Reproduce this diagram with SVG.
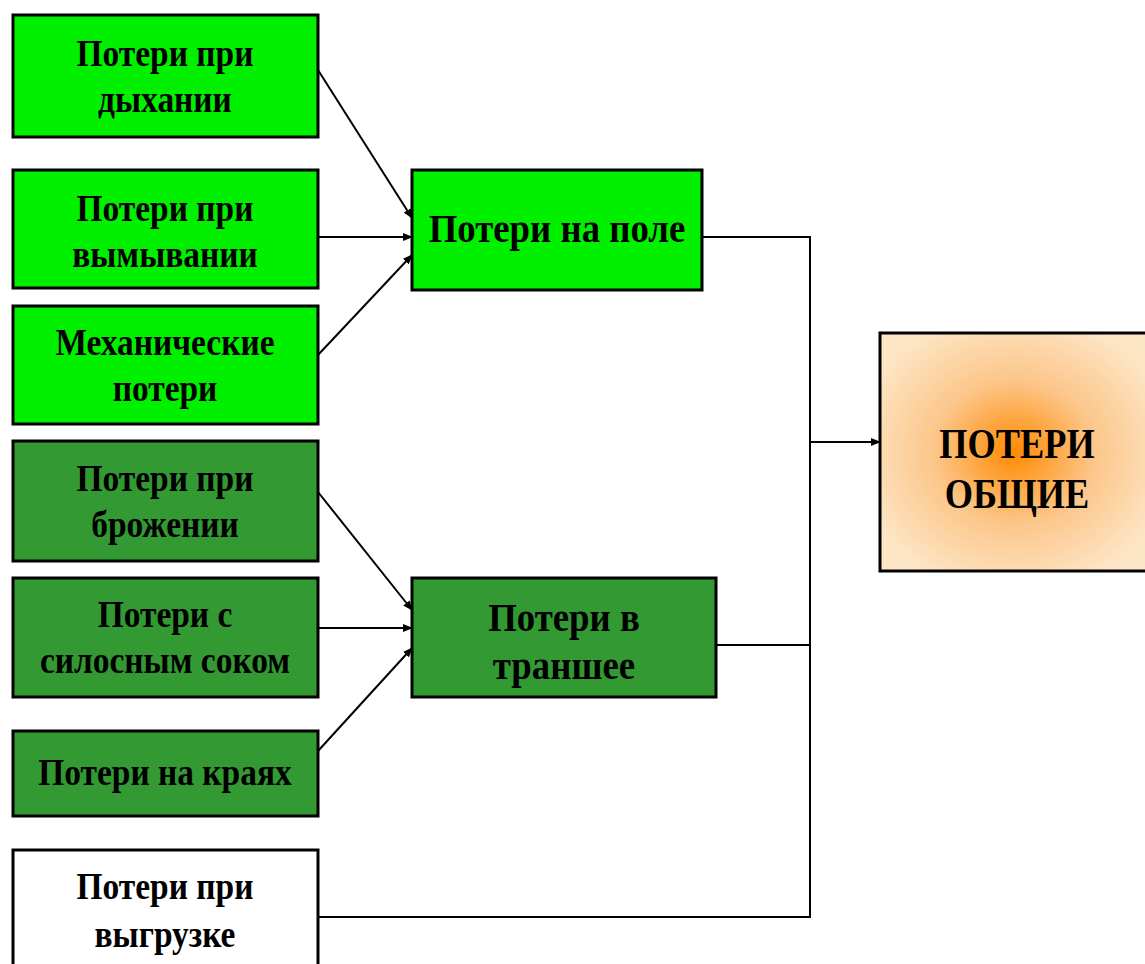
<svg xmlns="http://www.w3.org/2000/svg" width="1145" height="964" viewBox="0 0 1145 964">
<style>
.box{stroke:#000;stroke-width:3}
.lg{fill:#00f000}
.dg{fill:#339933}
.wh{fill:#fff}
text{font-family:"Liberation Serif","Times New Roman",serif;font-weight:bold;font-size:38px;fill:#000;text-anchor:middle}
text.m{font-size:40px}
text.t{font-size:42px}
.c{stroke:#000;stroke-width:2;fill:none}
</style>
<defs>
<marker id="ah" markerWidth="10" markerHeight="8" refX="9" refY="4" orient="auto" markerUnits="userSpaceOnUse">
<path d="M0,0 L10,4 L0,8 Z" fill="#000"/>
</marker>
<radialGradient id="og" cx="0.5" cy="0.5" r="0.6">
<stop offset="0" stop-color="#ff8a00"/>
<stop offset="0.5" stop-color="#fcc68a"/>
<stop offset="1" stop-color="#fde6c6"/>
</radialGradient>
</defs>
<rect width="1145" height="964" fill="#fff"/>
<g id="connectors">
<line class="c" x1="318" y1="70" x2="412" y2="218" marker-end="url(#ah)"/>
<line class="c" x1="318" y1="237" x2="412" y2="237" marker-end="url(#ah)"/>
<line class="c" x1="318" y1="355" x2="412" y2="255" marker-end="url(#ah)"/>
<line class="c" x1="318" y1="492" x2="412" y2="610" marker-end="url(#ah)"/>
<line class="c" x1="318" y1="628" x2="412" y2="628" marker-end="url(#ah)"/>
<line class="c" x1="318" y1="751" x2="412" y2="648" marker-end="url(#ah)"/>
<polyline class="c" points="702,237 810,237 810,917 318,917"/>
<line class="c" x1="716" y1="645" x2="810" y2="645"/>
<line class="c" x1="810" y1="442" x2="880" y2="442" marker-end="url(#ah)"/>
</g>
<g id="n1"><rect class="box lg" x="13" y="15" width="305" height="122"/><text x="165" y="66" transform="translate(165 0) scale(0.88 1) translate(-165 0)">Потери при</text><text x="165" y="112" transform="translate(165 0) scale(0.88 1) translate(-165 0)">дыхании</text></g>
<g id="n2"><rect class="box lg" x="13" y="170" width="305" height="118"/><text x="165" y="221" transform="translate(165 0) scale(0.88 1) translate(-165 0)">Потери при</text><text x="165" y="267" transform="translate(165 0) scale(0.88 1) translate(-165 0)">вымывании</text></g>
<g id="n3"><rect class="box lg" x="13" y="306" width="305" height="118"/><text x="165" y="355" transform="translate(165 0) scale(0.88 1) translate(-165 0)">Механические</text><text x="165" y="401" transform="translate(165 0) scale(0.88 1) translate(-165 0)">потери</text></g>
<g id="n4"><rect class="box dg" x="13" y="441" width="305" height="120"/><text x="165" y="491" transform="translate(165 0) scale(0.88 1) translate(-165 0)">Потери при</text><text x="165" y="537" transform="translate(165 0) scale(0.88 1) translate(-165 0)">брожении</text></g>
<g id="n5"><rect class="box dg" x="13" y="578" width="305" height="119"/><text x="165" y="627" transform="translate(165 0) scale(0.88 1) translate(-165 0)">Потери с</text><text x="165" y="673" transform="translate(165 0) scale(0.88 1) translate(-165 0)">силосным соком</text></g>
<g id="n6"><rect class="box dg" x="13" y="731" width="305" height="85"/><text x="165" y="785" transform="translate(165 0) scale(0.88 1) translate(-165 0)">Потери на краях</text></g>
<g id="n7"><rect class="box wh" x="13" y="850" width="305" height="120"/><text x="165" y="899" transform="translate(165 0) scale(0.88 1) translate(-165 0)">Потери при</text><text x="165" y="947" transform="translate(165 0) scale(0.88 1) translate(-165 0)">выгрузке</text></g>
<g id="m1"><rect class="box lg" x="412" y="170" width="290" height="120"/><text class="m" x="557" y="242" transform="translate(557 0) scale(0.92 1) translate(-557 0)">Потери на поле</text></g>
<g id="m2"><rect class="box dg" x="412" y="578" width="304" height="119"/><text class="m" x="564" y="631" transform="translate(564 0) scale(0.92 1) translate(-564 0)">Потери в</text><text class="m" x="564" y="679" transform="translate(564 0) scale(0.92 1) translate(-564 0)">траншее</text></g>
<g id="total"><rect class="box" fill="url(#og)" x="880" y="333" width="268" height="238"/><text class="t" x="1017" y="458" transform="translate(1017 0) scale(0.865 1) translate(-1017 0)">ПОТЕРИ</text><text class="t" x="1017" y="508" transform="translate(1017 0) scale(0.865 1) translate(-1017 0)">ОБЩИЕ</text></g>
</svg>
